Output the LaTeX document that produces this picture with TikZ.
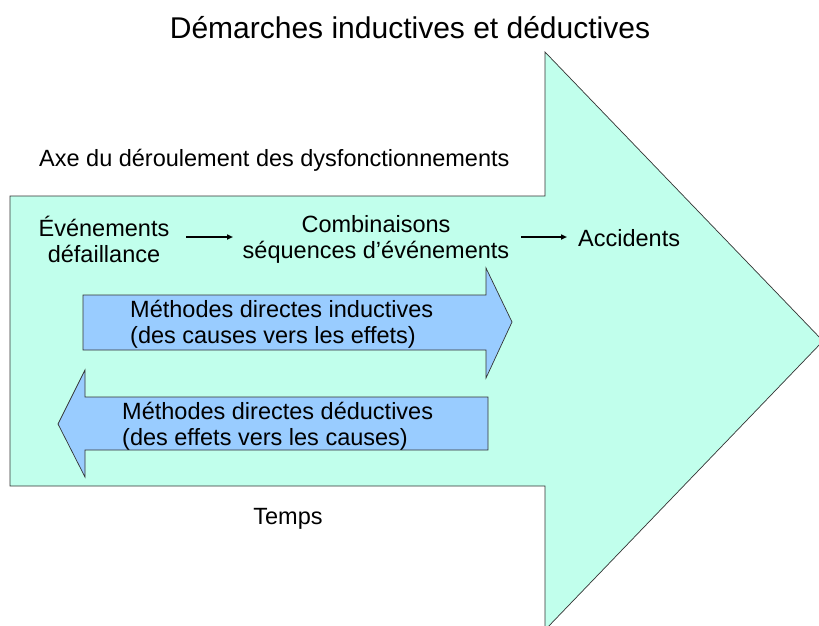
\documentclass[tikz,border=0pt]{standalone}
\usepackage{fontspec}
\setmainfont{Liberation Sans}
\usetikzlibrary{arrows.meta}
\definecolor{mint}{RGB}{193,255,236}
\definecolor{lblue}{RGB}{153,204,255}
\begin{document}
\begin{tikzpicture}[x=1pt,y=-1pt,
  bigshape/.style={fill=mint,draw=black!80,line width=0.7pt},
  blueshape/.style={fill=lblue,draw=black!80,line width=0.7pt},
  txt/.style={inner sep=0pt,font=\fontsize{23.5}{26}\selectfont,align=center},
  ltxt/.style={inner sep=0pt,font=\fontsize{23.5}{26}\selectfont,align=left},
  smallarrow/.style={line width=1.6pt,-{Triangle[length=6pt,width=5pt]}}]
\useasboundingbox (0,0) rectangle (819,625);
\begin{scope}
\clip (0,0) rectangle (819,625);
\draw[bigshape] (10,196) -- (545,196) -- (545,52) -- (823,341) -- (545,630) -- (545,486) -- (10,486) -- cycle;
\end{scope}
\draw[blueshape] (83,295) -- (486,295) -- (486,268) -- (512,322) -- (486,378) -- (486,350) -- (83,350) -- cycle;
\draw[blueshape] (488,397) -- (85,397) -- (85,370) -- (58,424) -- (85,477) -- (85,450) -- (488,450) -- cycle;
\node[inner sep=0pt,font=\fontsize{30}{34}\selectfont] (title) at (410,28) {Démarches inductives et déductives};
\node[txt,anchor=west] (axe) at (39,160) {Axe du déroulement des dysfonctionnements};
\node[txt] (ev) at (104,239) {Événements\\défaillance};
\node[txt] (comb) at (376,239) {Combinaisons\\séquences d’événements};
\node[txt,anchor=west] (acc) at (578,238) {Accidents};
\node[ltxt,anchor=west] (ind) at (130,324) {Méthodes directes inductives\\(des causes vers les effets)};
\node[ltxt,anchor=west] (ded) at (122,426) {Méthodes directes déductives\\(des effets vers les causes)};
\node[txt] (temps) at (288,519) {Temps};
\coordinate (a1s) at (186,237);
\coordinate (a1e) at (233,237);
\coordinate (a2s) at (521,237);
\coordinate (a2e) at (567,237);
\draw[smallarrow] (a1s) -- (a1e);
\draw[smallarrow] (a2s) -- (a2e);
\end{tikzpicture}
\end{document}
